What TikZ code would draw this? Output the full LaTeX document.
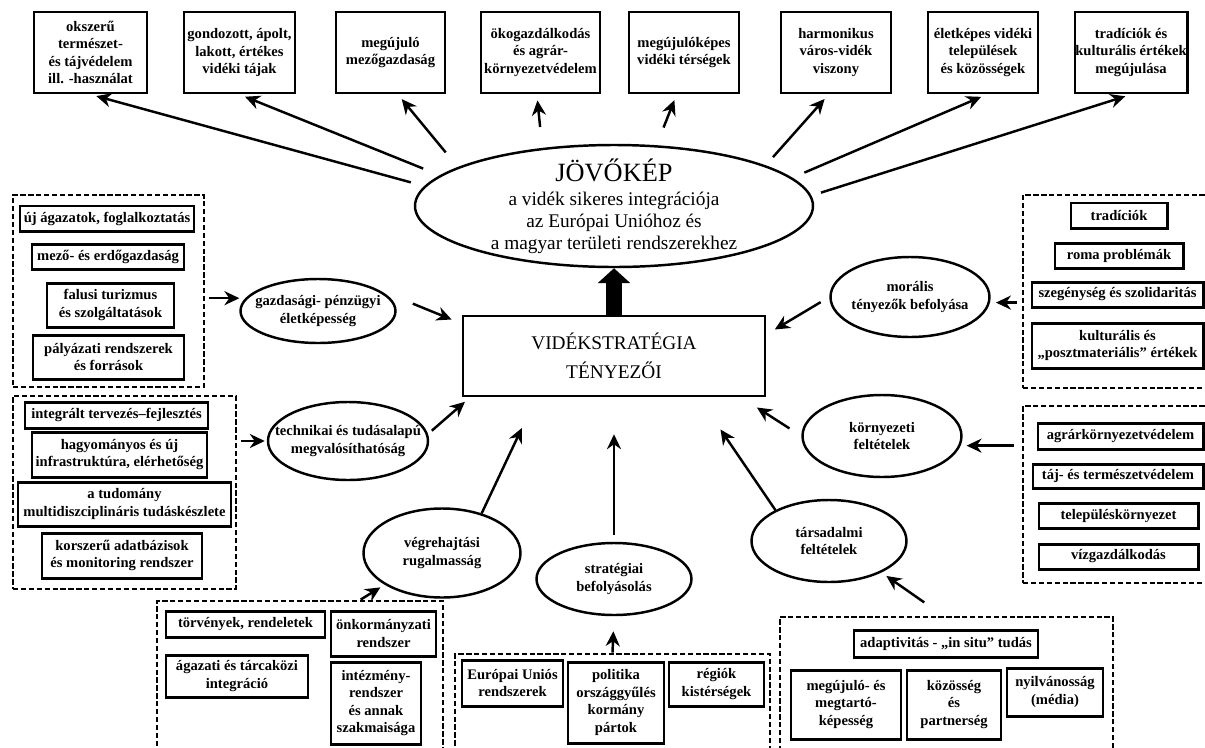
\documentclass[tikz,border=0pt]{standalone}
\usepackage{fontspec}
\setmainfont{Liberation Serif}
\usetikzlibrary{positioning}
\usetikzlibrary{arrows.meta,shapes}
\usetikzlibrary{calc}
\def\pxu{0.02cm}
\tikzstyle{itembox}=[draw,line width=1.7pt,align=center,inner sep=0pt,font=\bfseries\fontsize{8.3}{10}\selectfont]
\tikzstyle{factor}=[ellipse,draw,line width=1.4pt,align=center,inner sep=-1cm,font=\bfseries\fontsize{8.3}{10}\selectfont]
\tikzstyle{group}=[draw,line width=1.6pt,dash pattern=on 3pt off 1.5pt,inner sep=0pt]
\tikzstyle{arrowedge} = [draw,line width=1.4pt,-{Stealth[length=8.5pt,width=8pt]}]

\begin{document}
\begin{tikzpicture}[x=0.02cm, y=-0.02cm]

  \useasboundingbox (0,0) rectangle (1205,748);
  \clip (0,0) rectangle (1205,748);

  % centre
  \node[factor, font=\fontsize{11}{12.5}\selectfont, minimum width=398*\pxu, minimum height=122*\pxu] (jovo) at (614,206)
       {{\fontsize{15}{18}\selectfont JÖVŐKÉP}\\[1pt]a vidék sikeres integrációja\\az Európai Unióhoz és\\a magyar területi rendszerekhez};
  \node[draw, line width=1.4pt, align=center, minimum width=302*\pxu, minimum height=80*\pxu, font=\fontsize{11}{16.5}\selectfont] (vstrat) at (614,356)
       {VIDÉKSTRATÉGIA\\TÉNYEZŐI};
  \draw[line width=9pt, -{Triangle[length=0.3cm,width=0.64cm]}] (vstrat.north) -- (jovo.south);

  % top row
  \foreach \x/\w/\name/\label in {90.5/113/top1/{okszerű\\természet-\\és tájvédelem\\ill. -használat},
        239.5/111/top2/{gondozott, ápolt,\\lakott, értékes\\vidéki tájak},
        390.5/109/top3/{megújuló\\mezőgazdaság},
        540.5/119/top4/{ökogazdálkodás\\és agrár-\\környezetvédelem},
        684/110/top5/{megújulóképes\\vidéki térségek},
        836/110/top6/{harmonikus\\város-vidék\\viszony},
        983/110/top7/{életképes vidéki\\települések\\és közösségek},
        1131/112/top8/{tradíciók és\\kulturális értékek\\megújulása}}
     \node[itembox, minimum width=\w*\pxu, minimum height=81*\pxu] (\name) at (\x,52.5) {\label};

  % factors
  \foreach \x/\y/\w/\h/\name/\label in {318/311/155/64/gazd/{gazdasági- pénzügyi\\életképesség},
        910/297/159/80/moral/{morális\\tényezők befolyása},
        348/441/160/78/tech/{technikai és tudásalapú\\megvalósíthatóság},
        442/553/157/89/vegre/{végrehajtási\\rugalmasság},
        614/579/155/72/strat/{stratégiai\\befolyásolás},
        829/541/155/82/tars/{társadalmi\\feltételek},
        882/436/159/82/korny/{környezeti\\feltételek}}
     \node[factor, minimum width=\w*\pxu, minimum height=\h*\pxu] (\name) at (\x,\y) {\label};

  % dashed groups
  \foreach \x/\y/\w/\h/\name in {108.5/291/191/192/g1, 124.5/492.5/223/193/g2, 300/680/286/158/g3,
        612.5/707/315/106/g4, 946.5/690/333/146/g5, 1119/291.5/192/193/g6, 1119/494.5/192/177/g7}
     \node[group, minimum width=\w*\pxu, minimum height=\h*\pxu] (\name) at (\x,\y) {};

  \foreach \x/\y/\w/\h/\name/\label in {107/218.5/174/25/a1/{új ágazatok, foglalkoztatás},
        108/256.5/152/25/a2/{mező- és erdőgazdaság},
        110.5/305/127/44/a3/{falusi turizmus\\és szolgáltatások},
        108.5/357/151/44/a4/{pályázati rendszerek\\és források},
        116.5/415/183/26/b1/{integrált tervezés–fejlesztés},
        119.5/454.5/175/45/b2/{hagyományos és új\\infrastruktúra, elérhetőség},
        124.5/504/213/44/b3/{a tudomány\\multidiszciplináris tudáskészlete},
        122/555.5/160/45/b4/{korszerű adatbázisok\\és monitoring rendszer},
        245.5/624/159/26/c1/{törvények, rendeletek},
        383.5/633.5/105/45/c2/{önkormányzati\\rendszer},
        237/676/142/42/c3/{ágazati és tárcaközi\\integráció},
        376/703/90/82/c4/{intézmény-\\rendszer\\és annak\\szakmaisága},
        512.5/683/101/46/d1/{Európai Uniós\\rendszerek},
        616/702.5/96/81/d2/{politika\\országgyűlés\\kormány\\pártok},
        716.5/684/95/44/d3/{régiók\\kistérségek},
        946/643.5/184/27/e1/{adaptivitás - „in situ” tudás},
        846/704.5/110/69/e2/{megújuló- és\\megtartó-\\képesség},
        954/704.5/94/69/e3/{közösség\\és\\partnerség},
        1055/692/96/48/e4/{nyilvánosság\\(média)},
        1119/215.5/96/25/f1/{tradíciók},
        1119/255.5/128/25/f2/{roma problémák},
        1117.5/294.5/171/25/f3/{szegénység és szolidaritás},
        1117.5/345.5/171/45/f4/{kulturális és\\„posztmateriális” értékek},
        1120.5/436/165/26/h1/{agrárkörnyezetvédelem},
        1118/476/170/24/h2/{táj- és természetvédelem},
        1118.5/515.5/159/25/h3/{településkörnyezet},
        1118.5/556.5/159/25/h4/{vízgazdálkodás}}
     \node[itembox, minimum width=\w*\pxu, minimum height=\h*\pxu] (\name) at (\x,\y) {\label};

  % arrows
  \foreach \source/\dest/\sa/\sb in {jovo.174/top1.south/14/6, jovo.170/top2.south/18/6, jovo.166/top3.-80/19/6,
        jovo.141/top4.-95/21/6, jovo.55/top5.-100/19/6, jovo.15/top6.-100/11/6, jovo.9/top7.-85/13/6,
        jovo.3/top8.south/10/6}
     \path[arrowedge, shorten <=\sa*\pxu, shorten >=\sb*\pxu] (\source) -- (\dest);

  \foreach \source/\dest/\sa/\sb in {gazd.20/vstrat.168/38/11, tech.5/vstrat.196/5/7, vegre.45/vstrat.208/0/34,
        strat.north/vstrat.south/7/37, tars.150/vstrat.-26/0/39, korny.180/vstrat.-18/14/19, moral.180/vstrat.8/10/10}
     \path[arrowedge, shorten <=\sa*\pxu, shorten >=\sb*\pxu] (\source) -- (\dest);

  \path[arrowedge, shorten <=4*\pxu, shorten >=6*\pxu] (g1.east |- gazd.170) -- (gazd.170);
  \path[arrowedge, shorten <=4*\pxu, shorten >=2*\pxu] (g2.east |- tech.west) -- (tech.west);
  \path[arrowedge, shorten >=5*\pxu] ($(g3.north west)!0.71!(g3.north east)$) -- (vegre.209);
  \path[arrowedge, shorten >=15*\pxu] (g4.north) -- (strat.south);
  \path[arrowedge, shorten <=23*\pxu, shorten >=6*\pxu] ($(g5.north west)!0.49!(g5.north east)$) -- (tars.-31);
  \path[arrowedge, shorten <=5*\pxu, shorten >=6*\pxu] (g6.west |- moral.-4) -- (moral.-4);
  \path[arrowedge, shorten <=8*\pxu, shorten >=6*\pxu] (g7.west |- korny.-7) -- (korny.-7);

\end{tikzpicture}
\end{document}
